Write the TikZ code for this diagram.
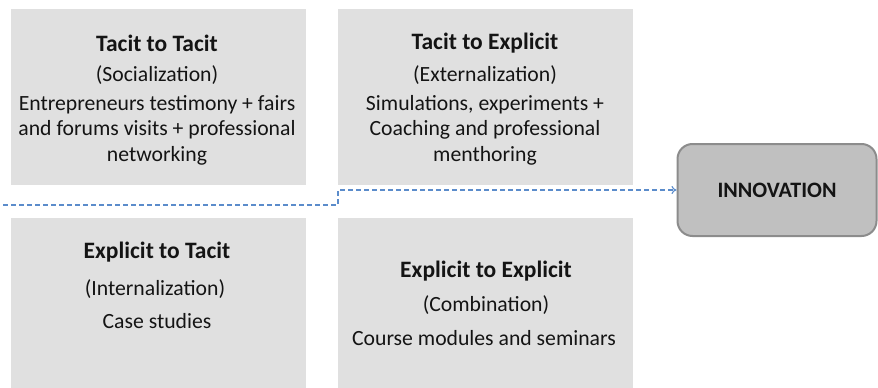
\documentclass[tikz,border=0pt]{standalone}
\usepackage{fontspec}
\setmainfont{Carlito}
\usetikzlibrary{arrows.meta}
\definecolor{boxfill}{HTML}{E0E0E0}
\definecolor{innofill}{HTML}{C0C0C0}
\definecolor{innoedge}{HTML}{8C8C8C}
\definecolor{flow}{HTML}{5B8CCB}
\definecolor{ink}{HTML}{141414}
\tikzset{
  quadrant/.style={fill=boxfill, draw=none, inner sep=0pt, minimum width=295pt, minimum height=#1},
  title/.style={font=\fontsize{23.5}{27}\selectfont\bfseries, text=ink, inner sep=0pt},
  body/.style={font=\fontsize{21.7}{25.5}\selectfont, text=ink, align=center, inner sep=0pt},
  flowline/.style={draw=flow, line width=1.1pt, dash pattern=on 5pt off 3pt, -{To[length=5pt,width=8pt]}},
}
\begin{document}
\begin{tikzpicture}[x=1pt,y=-1pt]
\useasboundingbox (0,0) rectangle (878,388);
% four knowledge-conversion quadrants
\node[quadrant=176pt] (tt) at (158,97) {};
\node[quadrant=176pt] (te) at (485.5,97) {};
\node[quadrant=172pt] (et) at (158,304) {};
\node[quadrant=172pt] (ee) at (485.5,304) {};
% Tacit to Tacit
\node[title] (tt1) at (157,43) {Tacit to Tacit};
\node[body] (tt2) at (157,75) {(Socialization)};
\node[body] (tt3) at (157,130) {Entrepreneurs testimony + fairs\\and forums visits + professional\\networking};
% Tacit to Explicit
\node[title] (te1) at (485,43) {Tacit to Explicit};
\node[body] (te2) at (485,75) {(Externalization)};
\node[body] (te3) at (485,130) {Simulations, experiments +\\Coaching and professional\\menthoring};
% Explicit to Tacit
\node[title] (et1) at (157,252) {Explicit to Tacit};
\node[body] (et2) at (155,289) {(Internalization)};
\node[body] (et3) at (157,321) {Case studies};
% Explicit to Explicit
\node[title] (ee1) at (486,271) {Explicit to Explicit};
\node[body] (ee2) at (486,305) {(Combination)};
\node[body] (ee3) at (484,338) {Course modules and seminars};
% outcome
\node[draw=innoedge, line width=2pt, fill=innofill, rounded corners=15pt,
      minimum width=199pt, minimum height=92pt, inner sep=0pt,
      font=\fontsize{22}{26}\selectfont\bfseries, text=ink] (inno) at (777,190) {INNOVATION};
% flow towards innovation
\coordinate (start) at (3,205);
\coordinate (step) at (338,205);
\draw[flowline] (start) -- (step) |- (inno.west);
\end{tikzpicture}
\end{document}
